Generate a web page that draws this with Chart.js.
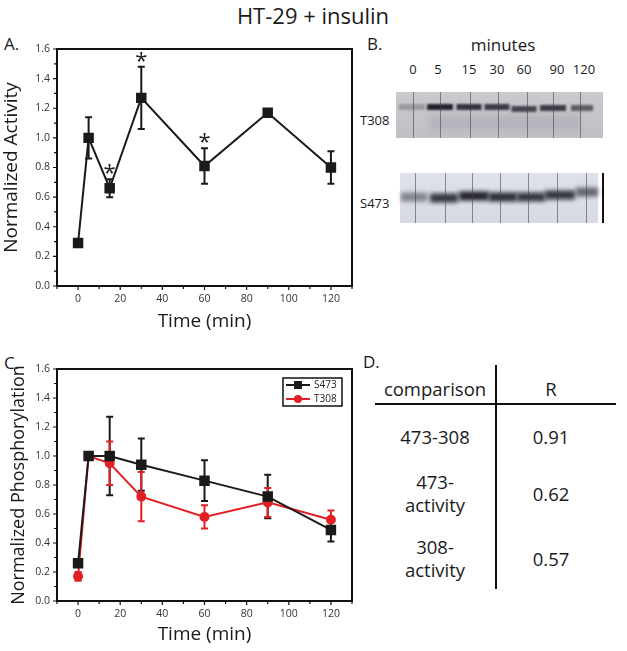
<!DOCTYPE html>
<html>
<head>
<meta charset="utf-8">
<script src="https://cdn.jsdelivr.net/npm/chart.js@4.4.0/dist/chart.umd.min.js"></script>
<style>
  body { margin: 0; background: #fff; font-family: "Open Sans", sans-serif; color: #1a1a1a; }
  #page { position: relative; width: 627px; height: 651px; overflow: hidden; }
  .abs { position: absolute; white-space: nowrap; }
  .panel { font-size: 17px; }
  .lane { font-size: 13px; transform: translateX(-50%); }
  .cell { font-size: 18.5px; text-align: center; line-height: 23px; transform: translate(-50%, -50%); }
</style>
</head>
<body>
<div id="page">
  <div class="abs" style="left:313px; top:0px; font-size:22px; transform:translateX(-50%);">HT-29 + insulin</div>

  <div class="abs panel" style="left:4px; top:32px;">A.</div>
  <div class="abs" style="left:0; top:30px; width:360px; height:300px;"><canvas id="chartA"></canvas></div>

  <div class="abs panel" style="left:367px; top:32px;">B.</div>
  <div class="abs" style="left:503px; top:33px; font-size:17px; transform:translateX(-50%);">minutes</div>
  <div id="laneLabels"></div>
  <div class="abs" style="left:360px; top:111px; font-size:13px;">T308</div>
  <div class="abs" style="left:360px; top:194px; font-size:13px;">S473</div>
  <canvas id="blot" class="abs" width="222" height="145" style="left:390px; top:85px;"></canvas>

  <div class="abs panel" style="left:4px; top:351px;">C.</div>
  <div class="abs" style="left:0; top:350px; width:360px; height:301px;"><canvas id="chartC"></canvas></div>

  <div class="abs panel" style="left:363px; top:350px;">D.</div>
  <div class="abs" style="left:495px; top:365px; width:2px; height:224px; background:#111;"></div>
  <div class="abs" style="left:375px; top:403px; width:241px; height:2px; background:#111;"></div>
  <div id="table"></div>
</div>

<script>
const timePoints = [0, 5, 15, 30, 60, 90, 120];
const xTicks = [0, 20, 40, 60, 80, 100, 120];
const yTicks = [0, 0.2, 0.4, 0.6, 0.8, 1.0, 1.2, 1.4, 1.6];

const activity = [0.29, 1.0, 0.66, 1.27, 0.81, 1.17, 0.80];
const activityErr = [0, 0.14, 0.06, 0.21, 0.12, 0, 0.11];
const activityStars = [false, false, true, true, true, false, false];

const s473 = [0.26, 1.0, 1.0, 0.94, 0.83, 0.72, 0.49];
const s473Err = [0.02, 0, 0.27, 0.18, 0.14, 0.15, 0.08];
const t308 = [0.17, 1.0, 0.95, 0.72, 0.58, 0.68, 0.56];
const t308Err = [0.03, 0, 0.15, 0.17, 0.08, 0.10, 0.065];

const blotMinutes = ["0", "5", "15", "30", "60", "90", "120"];
const comparisons = ["473-308", "473-<br>activity", "308-<br>activity"];
const rValues = ["0.91", "0.62", "0.57"];

const INK = "#1a1a1a";
const RED = "#e31f26";

function points(values) {
  return timePoints.map((t, i) => ({ x: t, y: values[i] }));
}

// error bars and asterisks, drawn through the chart's scales
const errorBars = {
  id: "errorBars",
  beforeDatasetsDraw(chart) {
    const { ctx, scales: { x, y } } = chart;
    chart.data.datasets.forEach((ds) => {
      if (!ds.errors) return;
      ctx.save();
      ctx.strokeStyle = ds.borderColor;
      ctx.lineWidth = 2;
      ds.data.forEach((p, i) => {
        const e = ds.errors[i];
        if (!e) return;
        const px = x.getPixelForValue(p.x);
        const top = y.getPixelForValue(p.y + e);
        const bot = y.getPixelForValue(p.y - e);
        ctx.beginPath();
        ctx.moveTo(px, top); ctx.lineTo(px, bot);
        ctx.moveTo(px - 3.5, top); ctx.lineTo(px + 3.5, top);
        ctx.moveTo(px - 3.5, bot); ctx.lineTo(px + 3.5, bot);
        ctx.stroke();
      });
      ctx.restore();
    });
  },
  afterDatasetsDraw(chart) {
    const { ctx, scales: { x, y } } = chart;
    chart.data.datasets.forEach((ds) => {
      if (!ds.stars) return;
      ctx.save();
      ctx.fillStyle = INK;
      ctx.font = '22px "Open Sans"';
      ctx.textAlign = "center";
      ctx.textBaseline = "alphabetic";
      ds.data.forEach((p, i) => {
        if (!ds.stars[i]) return;
        const top = y.getPixelForValue(p.y + (ds.errors[i] || 0));
        ctx.fillText("*", x.getPixelForValue(p.x), top + 1);
      });
      ctx.restore();
    });
  },
};

// box frame plus outward major/minor ticks on bottom and left
const axisFrame = {
  id: "axisFrame",
  afterDraw(chart) {
    const { ctx, chartArea: a, scales: { x, y } } = chart;
    const minorOf = (ticks) => ticks.slice(1).map((v, i) => (v + ticks[i]) / 2);
    ctx.save();
    ctx.strokeStyle = "#111";
    ctx.lineWidth = 2;
    ctx.strokeRect(a.left, a.top, a.right - a.left, a.bottom - a.top);
    ctx.lineWidth = 1.2;
    ctx.beginPath();
    const xMinor = [x.min, ...minorOf(xTicks), x.max];
    xTicks.forEach((v) => { const px = x.getPixelForValue(v); ctx.moveTo(px, a.bottom); ctx.lineTo(px, a.bottom + 4); });
    xMinor.forEach((v) => { const px = x.getPixelForValue(v); ctx.moveTo(px, a.bottom); ctx.lineTo(px, a.bottom + 3); });
    yTicks.forEach((v) => { const py = y.getPixelForValue(v); ctx.moveTo(a.left, py); ctx.lineTo(a.left - 4, py); });
    minorOf(yTicks).forEach((v) => { const py = y.getPixelForValue(v); ctx.moveTo(a.left, py); ctx.lineTo(a.left - 3, py); });
    ctx.stroke();
    ctx.restore();
  },
};

// boxed legend in the top right corner of the plot
const boxLegend = {
  id: "boxLegend",
  afterDraw(chart, args, opts) {
    if (!opts.show) return;
    const { ctx, chartArea: a } = chart;
    const w = 59, h = 28;
    const bx = a.right - 10 - w, by = a.top + 9;
    ctx.save();
    ctx.fillStyle = "#fff";
    ctx.fillRect(bx, by, w, h);
    ctx.strokeStyle = "#111";
    ctx.lineWidth = 1.5;
    ctx.strokeRect(bx, by, w, h);
    ctx.font = '10px "Open Sans"';
    ctx.textBaseline = "middle";
    chart.data.datasets.forEach((ds, i) => {
      const ly = by + 7 + i * 14;
      ctx.strokeStyle = ds.borderColor;
      ctx.lineWidth = 2;
      ctx.beginPath();
      ctx.moveTo(bx + 3, ly); ctx.lineTo(bx + 27, ly);
      ctx.stroke();
      ctx.fillStyle = ds.borderColor;
      if (ds.pointStyle === "rect") {
        ctx.fillRect(bx + 11, ly - 4, 8, 8);
      } else {
        ctx.beginPath(); ctx.arc(bx + 15, ly, 4, 0, Math.PI * 2); ctx.fill();
      }
      ctx.fillStyle = "#222";
      ctx.fillText(ds.label, bx + 31, ly + 0.5);
    });
    ctx.restore();
  },
};

function makeOptions(yTitle, cfg) {
  return {
    responsive: true,
    maintainAspectRatio: false,
    animation: false,
    layout: { padding: { top: 19, right: 8, left: 0, bottom: 0 } },
    plugins: {
      legend: { display: false },
      tooltip: { enabled: false },
      boxLegend: { show: cfg.legend },
    },
    scales: {
      x: {
        type: "linear",
        min: -10,
        max: 130,
        afterBuildTicks: (s) => { s.ticks = xTicks.map((v) => ({ value: v })); },
        afterFit: (s) => { s.height = cfg.xHeight; },
        grid: { display: false, drawTicks: false },
        border: { display: false },
        ticks: { color: "#333", font: { size: 10.5 }, padding: 7 },
        title: {
          display: true,
          text: "Time (min)",
          color: INK,
          font: { size: 19, lineHeight: 0.85 },
          padding: { top: 0, bottom: cfg.xTitlePad },
        },
      },
      y: {
        min: 0,
        max: 1.6,
        afterBuildTicks: (s) => { s.ticks = yTicks.map((v) => ({ value: v })); },
        afterFit: (s) => { s.width = 57; },
        grid: { display: false, drawTicks: false },
        border: { display: false },
        ticks: { color: "#333", font: { size: 10.5 }, padding: 7, callback: (v) => v.toFixed(1) },
        title: {
          display: true,
          text: yTitle,
          color: INK,
          font: { size: cfg.yTitleSize, lineHeight: 0.85 },
          padding: { top: cfg.yTitlePad, bottom: 0 },
        },
      },
    },
  };
}

Chart.defaults.font.family = '"Open Sans", sans-serif';

new Chart(document.getElementById("chartA"), {
  type: "line",
  data: {
    datasets: [
      {
        label: "activity",
        data: points(activity),
        errors: activityErr,
        stars: activityStars,
        borderColor: INK,
        backgroundColor: INK,
        borderWidth: 2,
        pointStyle: "rect",
        pointRadius: 6,
        tension: 0,
      },
    ],
  },
  options: makeOptions("Normalized Activity", { xHeight: 44, xTitlePad: 0.5, yTitlePad: 4, yTitleSize: 19, legend: false }),
  plugins: [errorBars, axisFrame, boxLegend],
});

new Chart(document.getElementById("chartC"), {
  type: "line",
  data: {
    datasets: [
      {
        label: "S473",
        data: points(s473),
        errors: s473Err,
        borderColor: INK,
        backgroundColor: INK,
        borderWidth: 2,
        pointStyle: "rect",
        pointRadius: 6,
        tension: 0,
      },
      {
        label: "T308",
        data: points(t308),
        errors: t308Err,
        borderColor: RED,
        backgroundColor: RED,
        borderWidth: 2,
        pointStyle: "circle",
        pointRadius: 4,
        tension: 0,
      },
    ],
  },
  options: makeOptions("Normalized Phosphorylation", { xHeight: 50, xTitlePad: 8.5, yTitlePad: 11, yTitleSize: 18, legend: true }),
  plugins: [errorBars, axisFrame, boxLegend],
});

// panel B: western blot picture
function buildLaneLabels() {
  const centers = [413, 438, 469, 497, 524, 557, 584];
  const box = document.getElementById("laneLabels");
  blotMinutes.forEach((m, i) => {
    const d = document.createElement("div");
    d.className = "abs lane";
    d.style.left = centers[i] + "px";
    d.style.top = "60px";
    d.textContent = m;
    box.appendChild(d);
  });
}

function drawBlot() {
  const ctx = document.getElementById("blot").getContext("2d");

  function strip(x, y, w, h, top, bottom) {
    const g = ctx.createLinearGradient(0, y, 0, y + h);
    g.addColorStop(0, top);
    g.addColorStop(1, bottom);
    ctx.fillStyle = g;
    ctx.fillRect(x, y, w, h);
  }

  function bands(list, by, bh, blur) {
    ctx.save();
    ctx.filter = `blur(${blur}px)`;
    list.forEach(([cx, w, a, dy]) => {
      ctx.fillStyle = `rgba(25,25,35,${a})`;
      ctx.fillRect(cx - w / 2, by + (dy || 0) - bh / 2, w, bh);
    });
    ctx.restore();
  }

  function dividers(xs, y, h) {
    ctx.save();
    ctx.strokeStyle = "rgba(60,60,70,0.55)";
    ctx.lineWidth = 1;
    ctx.beginPath();
    xs.forEach((x) => { ctx.moveTo(x + 0.5, y); ctx.lineTo(x + 0.5, y + h); });
    ctx.stroke();
    ctx.restore();
  }

  // T308 strip
  strip(6, 7, 207, 46, "#c9c9ce", "#bfbfc6");
  bands([[22, 26, 0.25, 0], [50, 26, 0.95], [79, 25, 0.85], [107, 25, 0.8], [134, 25, 0.75, 2], [163, 26, 0.8, 1], [192, 22, 0.6, 1]], 22, 6, 1.3);
  ctx.save();
  ctx.filter = "blur(3px)";
  ctx.fillStyle = "rgba(120,110,130,0.18)";
  ctx.fillRect(40, 30, 150, 14);
  ctx.restore();
  dividers([23, 50, 80, 108, 137, 163, 190], 7, 46);

  // S473 strip
  strip(10, 88, 198, 50, "#dde1e8", "#d6dae2");
  bands([[24, 26, 0.45, 0], [54, 28, 0.85, 1], [84, 30, 0.95, -1], [113, 28, 0.9], [141, 28, 0.85], [170, 30, 0.85, -2], [197, 22, 0.6, -5]], 112, 9, 2);
  dividers([25, 55, 82, 110, 138, 167, 196], 88, 50);
  ctx.fillStyle = "#111";
  ctx.fillRect(212, 88, 2, 50);
}

// panel D: correlation table
function buildTable() {
  const box = document.getElementById("table");
  const cell = (html, x, y) => {
    const d = document.createElement("div");
    d.className = "abs cell";
    d.style.left = x + "px";
    d.style.top = y + "px";
    d.innerHTML = html;
    box.appendChild(d);
  };
  cell("comparison", 435, 388);
  cell("R", 551, 388);
  const rowY = [436, 493, 558];
  comparisons.forEach((c, i) => {
    cell(c, 435, rowY[i]);
    cell(rValues[i], 551, rowY[i]);
  });
}

buildLaneLabels();
drawBlot();
buildTable();
</script>
</body>
</html>
